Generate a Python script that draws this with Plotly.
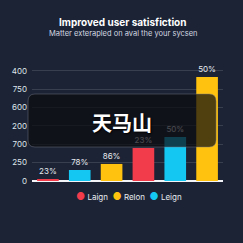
import plotly.graph_objects as go

# ---- data ----
series_names = ["Laign", "Relon", "Leign"]
series_colors = ["#F23B4B", "#FFC20E", "#14C6F2"]
# bar positions (category index) for each series
red_x = [0, 3]
red_values = [11, 180]
red_labels = ["23%", "23%"]
cyan_x = [1, 4]
cyan_values = [60, 240]
cyan_labels = ["78%", "50%"]
yellow_x = [2, 5]
yellow_values = [93, 567]
yellow_labels = ["86%", "50%"]
tick_vals = [0, 100, 200, 300, 400, 500, 600]
tick_text = ["0", "250", "700", "200", "600", "750", "400"]

W = H = 243
ML, MR, MT, MB = 30, 20, 68, 62
PW, PH = W - ML - MR, H - MT - MB

fig = go.Figure()
for name, col, xs, vals, labs in [
    (series_names[0], series_colors[0], red_x, red_values, red_labels),
    (series_names[2], series_colors[2], cyan_x, cyan_values, cyan_labels),
    (series_names[1], series_colors[1], yellow_x, yellow_values, yellow_labels),
]:
    fig.add_trace(go.Bar(
        x=xs, y=vals, name=name, marker=dict(color=col, line=dict(width=0)),
        width=0.68, text=labs, textposition="outside", cliponaxis=False,
        textfont=dict(family="Inter", size=8, color="#e6e9ef"),
        showlegend=False,
    ))

def px2paper(px, py):
    return (px - ML) / PW, (H - MB - py) / PH

# rounded dark overlay
x0, y0, x1, y1, r = 26, 94, 216, 147, 7
def P(px, py):
    a, b = px2paper(px, py)
    return f"{a:.5f},{b:.5f}"
path = (f"M {P(x0 + r, y0)} L {P(x1 - r, y0)} Q {P(x1, y0)} {P(x1, y0 + r)} "
        f"L {P(x1, y1 - r)} Q {P(x1, y1)} {P(x1 - r, y1)} L {P(x0 + r, y1)} "
        f"Q {P(x0, y1)} {P(x0, y1 - r)} L {P(x0, y0 + r)} Q {P(x0, y0)} {P(x0 + r, y0)} Z")
fig.add_shape(type="path", path=path, xref="paper", yref="paper",
              fillcolor="rgba(12,13,16,0.72)", line=dict(color="rgba(120,125,135,0.45)", width=1),
              layer="above")

def ann(text, px, py, size, color, family="Inter", shadow="none"):
    a, b = px2paper(px, py)
    fig.add_annotation(text=text, x=a, y=b, xref="paper", yref="paper", showarrow=False,
                       font=dict(family=family, size=size, color=color, shadow=shadow),
                       xanchor="center", yanchor="middle")

# watermark text
ann("<b>天马山</b>", 121, 122, 20, "white", "Noto Sans CJK SC", shadow="1px 1px 2px #000")
# title & subtitle
ann("<b>Improved user satisfiction</b>", 121, 22, 10, "white")
ann("Matter exterapled on aval the your sycsen", 122, 33.5, 7.5, "#d4d8e0")
# legend built from series names
leg = "  ".join(f"<span style='color:{c};font-size:10px'>●</span> {n}" for n, c in zip(series_names, series_colors))
ann(leg, 128, 195.5, 8, "#e8ebf0")

fig.update_layout(
    width=W, height=H, margin=dict(l=ML, r=MR, t=MT, b=MB),
    paper_bgcolor="#1b2335", plot_bgcolor="rgba(0,0,0,0)",
    barmode="overlay", showlegend=False,
    xaxis=dict(range=[-0.5, 5.5], showticklabels=False, showgrid=False, zeroline=False,
               showline=False, fixedrange=True),
    yaxis=dict(range=[0, 616], tickvals=tick_vals, ticktext=tick_text,
               tickfont=dict(family="Inter", size=8, color="#dfe3ea"),
               gridcolor="rgba(255,255,255,0.13)", gridwidth=1, zeroline=True,
               zerolinecolor="#f2f4f7", zerolinewidth=1.5, showline=False, ticks="",
               ticklabelstandoff=4),
)
fig.write_html("out.html")
